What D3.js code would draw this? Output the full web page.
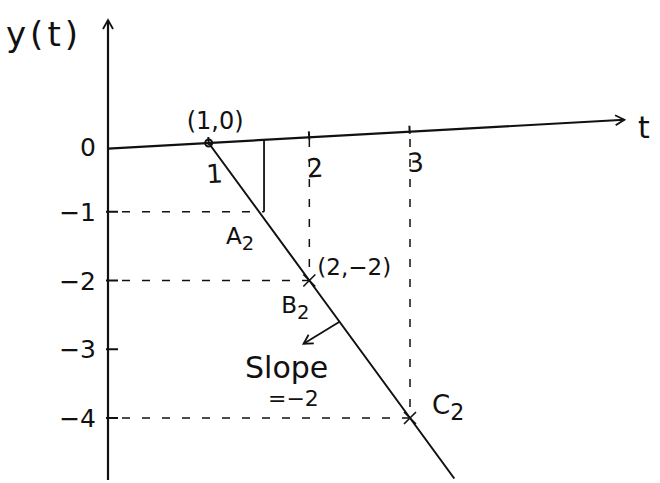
<!DOCTYPE html>
<html>
<head>
<meta charset="utf-8">
<script src="https://cdn.jsdelivr.net/npm/d3@7"></script>
<style>
  html, body { margin: 0; padding: 0; background: #fff; }
  svg text { font-family: "DejaVu Sans", sans-serif; fill: #111; }
</style>
</head>
<body>
<svg id="chart" width="660" height="483"></svg>
<script>
// Straight line y(t) through (1,0) with slope -2
const lineT = [1, 2, 3, 3.44];
const lineY = [0, -2, -4, -4.88];

// Axis ticks
const tTicks = [1, 2, 3];
const tTickLabels = ["1", "2", "3"];
const yTicks = [0, -1, -2, -3, -4];
const yTickLabels = ["0", "−1", "−2", "−3", "−4"];

// Marked points on the line
const pointT = [2, 3];
const pointY = [-2, -4];
const pointNames = ["B", "C"];

// Reference corner for A2 (vertical from axis, horizontal from y = -1)
const cornerT = 1.55;
const cornerY = -1;

const svg = d3.select("#chart");
const ink = "#111";

const x = d3.scaleLinear().domain([0, 3]).range([108, 410]);
const y = d3.scaleLinear().domain([0, -4]).range([143, 418]);

const defs = svg.append("defs");
defs.append("marker")
  .attr("id", "open-arrow")
  .attr("viewBox", "0 0 12 12")
  .attr("refX", 10).attr("refY", 6)
  .attr("markerWidth", 12).attr("markerHeight", 12)
  .attr("markerUnits", "userSpaceOnUse")
  .attr("orient", "auto")
  .append("path")
  .attr("d", "M1,1 L10,6 L1,11")
  .attr("fill", "none").attr("stroke", ink).attr("stroke-width", 1.8);

// ---- y axis ----
const yAxisG = svg.append("g");
yAxisG.append("line")
  .attr("x1", x(0)).attr("y1", y(-4.9))
  .attr("x2", x(0)).attr("y2", 20)
  .attr("stroke", ink).attr("stroke-width", 2.2)
  .attr("marker-end", "url(#open-arrow)");

yAxisG.selectAll(".ytick")
  .data(yTicks.filter(d => d !== 0))
  .join("line")
  .attr("x1", x(0) - 2).attr("x2", x(0) + 10)
  .attr("y1", d => y(d)).attr("y2", d => y(d))
  .attr("stroke", ink).attr("stroke-width", 2);

yAxisG.selectAll(".ylabel")
  .data(yTicks)
  .join("text")
  .attr("x", x(0) - 12)
  .attr("y", d => y(d) + (d === 0 ? 13 : 9))
  .attr("text-anchor", "end")
  .attr("font-size", 25)
  .text((d, i) => yTickLabels[i]);

svg.append("text")
  .attr("x", 6).attr("y", 46)
  .attr("font-size", 34)
  .attr("letter-spacing", 4)
  .text("y(t)");

// ---- t axis (slightly tilted, as sketched) ----
const tAxisG = svg.append("g")
  .attr("transform", `rotate(-3.2, ${x(1)}, ${y(0)})`);

tAxisG.append("line")
  .attr("x1", x(0)).attr("y1", y(0))
  .attr("x2", 625).attr("y2", y(0))
  .attr("stroke", ink).attr("stroke-width", 2.2)
  .attr("marker-end", "url(#open-arrow)");

tAxisG.selectAll(".ttick")
  .data(tTicks)
  .join("line")
  .attr("x1", d => x(d)).attr("x2", d => x(d))
  .attr("y1", y(0) - 6).attr("y2", y(0) + 2)
  .attr("stroke", ink).attr("stroke-width", 2);

tAxisG.selectAll(".tlabel")
  .data(tTicks)
  .join("text")
  .attr("x", d => x(d) + 4)
  .attr("y", y(0) + 40)
  .attr("text-anchor", "middle")
  .attr("font-size", 26)
  .text((d, i) => tTickLabels[i]);

svg.append("text")
  .attr("x", 638).attr("y", 138)
  .attr("font-size", 30)
  .text("t");

// ---- dashed guides ----
const dash = "8,12";
svg.selectAll(".vguide")
  .data(pointT)
  .join("line")
  .attr("x1", d => x(d)).attr("x2", d => x(d))
  .attr("y1", y(0) - 4)
  .attr("y2", (d, i) => y(pointY[i]))
  .attr("stroke", ink).attr("stroke-width", 1.5)
  .attr("stroke-dasharray", dash);

svg.selectAll(".hguide")
  .data(pointY)
  .join("line")
  .attr("x1", x(0) + 14)
  .attr("x2", (d, i) => x(pointT[i]))
  .attr("y1", d => y(d)).attr("y2", d => y(d))
  .attr("stroke", ink).attr("stroke-width", 1.5)
  .attr("stroke-dasharray", dash);

// A2 corner: dashed from y = -1, solid drop from the t axis
svg.append("line")
  .attr("x1", x(0) + 14).attr("x2", x(cornerT))
  .attr("y1", y(cornerY)).attr("y2", y(cornerY))
  .attr("stroke", ink).attr("stroke-width", 1.5)
  .attr("stroke-dasharray", dash);
svg.append("line")
  .attr("x1", x(cornerT)).attr("x2", x(cornerT))
  .attr("y1", y(0) - 3).attr("y2", y(cornerY))
  .attr("stroke", ink).attr("stroke-width", 1.8);

// ---- the line ----
const lineData = lineT.map((t, i) => [t, lineY[i]]);
svg.append("path")
  .datum(lineData)
  .attr("d", d3.line().x(d => x(d[0])).y(d => y(d[1])))
  .attr("fill", "none")
  .attr("stroke", ink).attr("stroke-width", 2);

// start point (1,0)
svg.append("circle")
  .attr("cx", x(1)).attr("cy", y(0)).attr("r", 3.5)
  .attr("fill", "none").attr("stroke", ink).attr("stroke-width", 2);
svg.append("text")
  .attr("x", x(1) - 22).attr("y", y(0) - 14)
  .attr("font-size", 24)
  .text("(1,0)");

// crosses at marked points
pointT.forEach((t, i) => {
  const cx = x(t), cy = y(pointY[i]);
  svg.append("path")
    .attr("d", `M${cx - 6},${cy - 6}L${cx + 6},${cy + 6}M${cx + 6},${cy - 6}L${cx - 6},${cy + 6}`)
    .attr("stroke", ink).attr("stroke-width", 1.6);
});

svg.append("text")
  .attr("x", x(2) + 8).attr("y", y(-2) - 6)
  .attr("font-size", 23)
  .text("(2,−2)");

// subscripted point names
function named(px, py, letter, size) {
  const t = svg.append("text").attr("x", px).attr("y", py).attr("font-size", size);
  t.append("tspan").text(letter);
  t.append("tspan").attr("dy", 6).attr("font-size", size * 0.85).text("2");
}
named(x(1.55) - 38, y(-1) + 32, "A", 23);
named(x(2) - 28, y(-2) + 32, pointNames[0], 23);
named(x(3) + 22, y(-4) - 4, pointNames[1], 26);

// slope annotation
const sx = x(2.3), sy = y(-2.6);
svg.append("line")
  .attr("x1", sx).attr("y1", sy)
  .attr("x2", sx - 36).attr("y2", sy + 22)
  .attr("stroke", ink).attr("stroke-width", 1.8)
  .attr("marker-end", "url(#open-arrow)");
svg.append("text")
  .attr("x", 245).attr("y", 378)
  .attr("font-size", 30)
  .text("Slope");
svg.append("text")
  .attr("x", 268).attr("y", 406)
  .attr("font-size", 22)
  .text("=−2");
</script>
</body>
</html>
